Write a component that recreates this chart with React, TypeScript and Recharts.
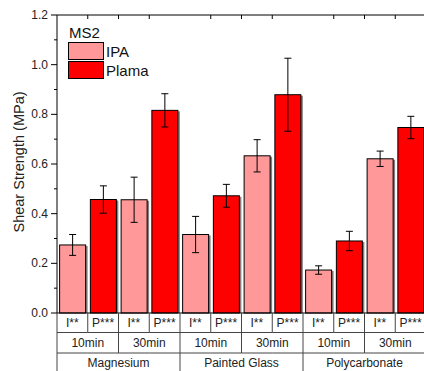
import React from "react";
import {
  BarChart,
  Bar,
  Cell,
  XAxis,
  YAxis,
  ErrorBar,
  Legend,
  Label,
  ReferenceLine,
} from "recharts";

// values, ordered material x time
const materials = ["Magnesium", "Painted Glass", "Polycarbonate"];
const times = ["10min", "30min"];
const methods = ["I**", "P***"];
const ipaMeans = [0.274, 0.456, 0.316, 0.633, 0.173, 0.621];
const ipaErrors = [0.042, 0.091, 0.073, 0.065, 0.017, 0.031];
const plamaMeans = [0.457, 0.816, 0.472, 0.879, 0.29, 0.747];
const plamaErrors = [0.055, 0.067, 0.046, 0.147, 0.039, 0.045];
const yTicks = [0, 0.1, 0.2, 0.3, 0.4, 0.5, 0.6, 0.7, 0.8, 0.9, 1.0, 1.1, 1.2];
const legendItems = [
  { name: "IPA", color: "#FF9999" },
  { name: "Plama", color: "#FF0000" },
];

const FONT = "'Liberation Sans', Arial, sans-serif";
const CHART_W = 426;
const CHART_H = 371;
const YAXIS_W = 57;
const XAXIS_H = 58;
const TOP = 15;
const SLOT = (CHART_W - YAXIS_W) / (materials.length * times.length * methods.length);
const LINE = "#444";

const data = materials.flatMap((material, m) =>
  times.flatMap((time, t) => {
    const k = m * times.length + t;
    return [
      { key: `${k}-i`, material, time, method: methods[0], series: 0, value: ipaMeans[k], err: ipaErrors[k] },
      { key: `${k}-p`, material, time, method: methods[1], series: 1, value: plamaMeans[k], err: plamaErrors[k] },
    ];
  })
);

const YTick = (props: any) => {
  const { x, y, payload } = props;
  const v = payload.value;
  const major = Math.round(v * 10) % 2 === 0;
  return (
    <g>
      <line x1={major ? x + 3 : x + 6} x2={x + 9} y1={y} y2={y} stroke="#000" />
      {major && (
        <text x={x} y={y + 4} textAnchor="end" fontSize={12} fill="#222" fontFamily={FONT}>
          {v.toFixed(1)}
        </text>
      )}
    </g>
  );
};

const XTick = (props: any) => {
  const { x, y, payload } = props;
  const i = payload.index;
  const row = data[i];
  const x0 = x - SLOT / 2;
  const x1 = x + SLOT / 2;
  const last = i === data.length - 1;
  const rightH = (i + 1) % 4 === 0 ? XAXIS_H : (i + 1) % 2 === 0 ? 40 : 19.5;
  return (
    <g fontFamily={FONT} fontSize={12} fill="#222">
      {i === 0 && <line x1={x0} x2={x0} y1={y} y2={y + XAXIS_H} stroke={LINE} />}
      {!last && <line x1={x1} x2={x1} y1={y} y2={y + rightH} stroke={LINE} />}
      {(i + 1) % 4 !== 0 && !last && <line x1={x1} x2={x1} y1={TOP} y2={TOP + 4} stroke="#000" />}
      <line x1={x0} x2={x1} y1={y + 19.5} y2={y + 19.5} stroke={LINE} />
      <line x1={x0} x2={x1} y1={y + 40} y2={y + 40} stroke={LINE} />
      <text x={x} y={y + 14} textAnchor="middle">{row.method}</text>
      {i % 2 === 0 && (
        <text x={x1} y={y + 34} textAnchor="middle">{row.time}</text>
      )}
      {i % 4 === 0 && (
        <text x={x0 + 2 * SLOT} y={y + 54} textAnchor="middle">{row.material}</text>
      )}
    </g>
  );
};

const ShadowBar = (props: any) => {
  const { x, y, width, height, fill } = props;
  if (!height || height <= 0) return null;
  return (
    <g>
      <rect x={x + 2} y={y + 1} width={width} height={height - 1} fill="#808080" />
      <rect x={x} y={y} width={width} height={height} fill={fill} stroke="#000" strokeWidth={1} />
    </g>
  );
};

const LegendBox = () => (
  <svg width={120} height={60} style={{ overflow: "visible" }}>
    <text x={1} y={12} fontSize={15} fontFamily={FONT} fill="#111">MS2</text>
    {legendItems.map((it, idx) => (
      <g key={it.name}>
        <rect x={0.5} y={16.5 + idx * 19} width={35} height={17} fill={it.color} stroke="#000" />
        <text x={38} y={31 + idx * 19} fontSize={15} fontFamily={FONT} fill="#111">
          {it.name}
        </text>
      </g>
    ))}
  </svg>
);

const YLabel = (props: any) => {
  const { viewBox } = props;
  const cx = viewBox.x + 19;
  const cy = viewBox.y + viewBox.height / 2 - 2;
  return (
    <text
      x={cx}
      y={cy}
      transform={`rotate(-90, ${cx}, ${cy})`}
      textAnchor="middle"
      dominantBaseline="central"
      fontSize={14.5}
      fontFamily={FONT}
      fill="#222"
    >
      Shear Strength (MPa)
    </text>
  );
};

export default function App() {
  return (
    <div style={{ position: "absolute", left: 0, top: 0, width: 424, height: 371, overflow: "hidden", background: "#fff" }}>
      <BarChart
        width={CHART_W}
        height={CHART_H}
        data={data}
        margin={{ top: TOP, right: 0, bottom: 0, left: 0 }}
        barCategoryGap="8.5%"
      >
        <XAxis
          dataKey="key"
          type="category"
          interval={0}
          height={XAXIS_H}
          tickLine={false}
          tickSize={0}
          tickMargin={0}
          axisLine={{ stroke: "#000" }}
          tick={<XTick />}
        />
        <YAxis
          width={YAXIS_W}
          domain={[0, 1.2]}
          ticks={yTicks}
          interval={0}
          tickLine={false}
          tickSize={6}
          tickMargin={3}
          axisLine={{ stroke: "#000" }}
          tick={<YTick />}
        >
          <Label content={<YLabel />} />
        </YAxis>
        <ReferenceLine y={1.2} stroke="#000" />
        <Legend
          layout="vertical"
          align="center"
          verticalAlign="middle"
          wrapperStyle={{ position: "absolute", left: 68, top: 26, width: 120, height: 60 }}
          content={<LegendBox />}
        />
        <Bar dataKey="value" isAnimationActive={false} shape={<ShadowBar />}>
          {data.map((d) => (
            <Cell key={d.key} fill={legendItems[d.series].color} />
          ))}
          <ErrorBar dataKey="err" width={3.5} stroke="#000" strokeWidth={1} />
        </Bar>
      </BarChart>
    </div>
  );
}
